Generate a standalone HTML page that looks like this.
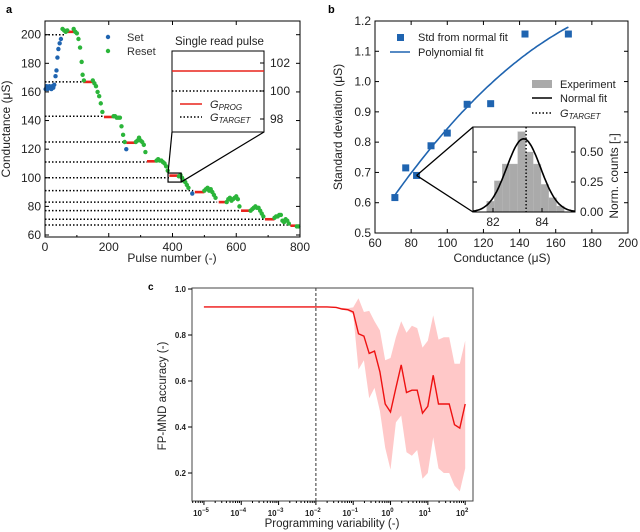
<!DOCTYPE html>
<html><head><meta charset="utf-8"><style>
body{margin:0;background:#fff;}
svg{display:block;font-family:"Liberation Sans",sans-serif;}
</style></head><body>
<svg id="fig" width="640" height="532" viewBox="0 0 640 532" xmlns="http://www.w3.org/2000/svg">
<g id="pa"></g>
<g id="pb"></g>
<g id="pc"></g>
</svg>
<script>
// ---------- Panel a data ----------
const aLevels = [200,167,143,125,111,100,91,83,77,71,67];
const aDotEnd = [60,125,185,255,320,390,465,540,615,690,770];
const aProgX0 = [60,120,185,255,320,390,470,545,615,690,770];
const aProgVal = [202,167,142.5,124.5,111.5,101.5,90,83,77,71,66.5];
const aSetX = [2,5,8,11,14,17,20,23,26,29,33,36,39,42,46,50,255,462];
const aSetY = [162,164,162,163,164,163,162,164,163,165,171,175,184,190,194,197,120,89];
const aResetX = [55,60,65,70,90,95,100,105,110,115,118,122,150,155,160,165,170,175,180,215,220,225,230,235,240,245,250,285,290,295,300,305,310,315,350,355,360,365,370,375,380,385,420,425,430,435,440,445,450,500,505,510,515,520,525,530,535,570,575,580,585,590,595,600,605,610,645,650,655,660,665,670,675,680,685,720,725,730,735,740,745,750,755,760,765,790,795];
const aResetY = [204,203,202,203,204,202,201,197,191,181,172,168,168,166,164,160,157,152,146,143,143,142,142,142,136,130,125,125,126,128,126,125,123,118,112,113,112,112,111,110,108,105,101,102,100,98,97,95,93,91,92,93,91,92,90,88,86,83,85,86,84,85,86,87,85,80,77,78,79,80,79,79,77,75,73,72,73,73,74,74,70,69,71,70,68,66,66];
const aXTicks = [0,200,400,600,800];
const aYTicks = [60,80,100,120,140,160,180,200];
const aInsetTicks = [98,100,102];
const aInsetProg = [101.43];
// ---------- Panel b data ----------
const bPtsX = [71,77,83,91,100,111,124,143,167];
const bPtsY = [0.617,0.715,0.69,0.788,0.83,0.925,0.927,1.157,1.157];
const bPolyCoef = [-0.1033,0.01216,-0.0000268];
const bXTicks = [60,80,100,120,140,160,180,200];
const bYTicks = [0.5,0.6,0.7,0.8,0.9,1.0,1.1,1.2];
const bHistStart = [81.74];
const bHistWidth = [0.317];
const bHistH = [0.09,0.26,0.40,0.40,0.67,0.50,0.40,0.23,0.12,0.05];
const bFit = [83.25,0.69,0.61]; // mean, sigma, peak
const bTarget = [83.35];
const bInsetXTicks = [82,84];
const bInsetYTicks = [0,0.25,0.5];
// ---------- Panel c data ----------
const cX = [1e-5,1e-4,1e-3,1e-2,0.02,0.035,0.05,0.072,0.1,0.139,0.193,0.268,0.373,0.518,0.72,1,1.39,1.93,2.68,3.73,5.18,7.2,10,13.9,19.3,26.8,37.3,51.8,72,100];
const cMean = [0.922,0.922,0.922,0.922,0.922,0.920,0.913,0.910,0.900,0.805,0.795,0.72,0.73,0.64,0.50,0.465,0.57,0.67,0.55,0.56,0.56,0.46,0.49,0.625,0.50,0.50,0.50,0.41,0.395,0.50];
const cUpper = [0.923,0.923,0.923,0.923,0.924,0.922,0.918,0.917,0.92,0.96,0.90,0.905,0.86,0.82,0.69,0.70,0.79,0.86,0.81,0.84,0.83,0.745,0.775,0.885,0.78,0.79,0.79,0.675,0.675,0.775];
const cLower = [0.921,0.921,0.921,0.921,0.920,0.918,0.91,0.905,0.89,0.65,0.69,0.525,0.57,0.47,0.31,0.215,0.42,0.45,0.29,0.275,0.30,0.175,0.20,0.355,0.22,0.20,0.20,0.145,0.12,0.22];
const cXTickExp = [-5,-4,-3,-2,-1,0,1,2];
const cYTicks = [0.2,0.4,0.6,0.8,1.0];
const cVline = [0.01];

const NS = "http://www.w3.org/2000/svg";
function mk(parent, tag, attrs, name, txt){
  const e = document.createElementNS(NS, tag);
  for (const k in attrs) e.setAttribute(k, attrs[k]);
  
  
  if (txt !== undefined) e.textContent = txt;
  parent.appendChild(e);
  return e;
}

// ===== Panel a =====
(function(){
  const g = document.getElementById('pa');
  const L=45,R=300,T=21,B=237;
  const xA = v => L + v/800*(R-L);
  const yA = v => 235 - (v-60)*1.4307;
  mk(g,'text',{x:6,y:13,'font-size':11,'font-weight':'bold'},'panel-label-a','a');
  aLevels.forEach((lv,i)=>{
    mk(g,'line',{x1:L,x2:xA(aDotEnd[i]),y1:yA(lv),y2:yA(lv),stroke:'#000','stroke-width':1.5,'stroke-dasharray':'1.5,2'},'target-line');
  });
  aProgX0.forEach((x0,i)=>{
    mk(g,'line',{x1:xA(x0),x2:xA(x0+30),y1:yA(aProgVal[i]),y2:yA(aProgVal[i]),stroke:'#e8231c','stroke-width':2.6},'prog-segment');
  });
  aResetX.forEach((x,i)=>{
    mk(g,'circle',{cx:xA(x),cy:yA(aResetY[i]),r:2.2,fill:'#2bb53a'},'reset-point');
  });
  aSetX.forEach((x,i)=>{
    mk(g,'circle',{cx:xA(x),cy:yA(aSetY[i]),r:2.2,fill:'#1f64b0'},'set-point');
  });
  mk(g,'rect',{x:L,y:T,width:R-L,height:B-T,fill:'none',stroke:'#000','stroke-width':1},'plot-frame');
  aXTicks.forEach(v=>{
    mk(g,'line',{x1:xA(v),x2:xA(v),y1:B,y2:B-4,stroke:'#000'},'x-tick');
    mk(g,'line',{x1:xA(v),x2:xA(v),y1:T,y2:T+4,stroke:'#000'},'x-tick-top');
    mk(g,'text',{x:xA(v),y:B+14,'font-size':12,'text-anchor':'middle',fill:'#222'},'x-tick-label',String(v));
  });
  for(let v=100;v<800;v+=200){
    mk(g,'line',{x1:xA(v),x2:xA(v),y1:B,y2:B-2,stroke:'#000'},'x-minor-tick');
  }
  aYTicks.forEach(v=>{
    mk(g,'line',{x1:L,x2:L+4,y1:yA(v),y2:yA(v),stroke:'#000'},'y-tick');
    mk(g,'line',{x1:R,x2:R-4,y1:yA(v),y2:yA(v),stroke:'#000'},'y-tick-right');
    mk(g,'text',{x:L-4,y:yA(v)+4,'font-size':12,'text-anchor':'end',fill:'#222'},'y-tick-label',String(v));
  });
  mk(g,'text',{x:172,y:262,'font-size':12,'text-anchor':'middle',fill:'#222'},'x-axis-title','Pulse number (-)');
  mk(g,'text',{x:0,y:0,'font-size':12,'text-anchor':'middle',fill:'#222',transform:'translate(10,129) rotate(-90)'},'y-axis-title','Conductance (\u03bcS)');
  mk(g,'circle',{cx:108,cy:37,r:2.2,fill:'#1f64b0'},'legend-set-marker');
  mk(g,'text',{x:127,y:41,'font-size':11,fill:'#333'},'legend-set-label','Set');
  mk(g,'circle',{cx:108,cy:51,r:2.2,fill:'#2bb53a'},'legend-reset-marker');
  mk(g,'text',{x:127,y:55,'font-size':11,fill:'#333'},'legend-reset-label','Reset');
  mk(g,'rect',{x:xA(386),y:yA(103.3),width:xA(427)-xA(386),height:yA(97)-yA(103.3),fill:'none',stroke:'#000','stroke-width':1.2},'zoom-rect');
  mk(g,'line',{x1:xA(386),y1:yA(103.3),x2:172,y2:132,stroke:'#000','stroke-width':1.2},'zoom-connector');
  mk(g,'line',{x1:xA(427),y1:yA(97),x2:264,y2:132,stroke:'#000','stroke-width':1.2},'zoom-connector');
  mk(g,'rect',{x:172,y:51,width:92,height:81,fill:'#fff',stroke:'#000','stroke-width':1},'inset-frame');
  const yI = v => 91-(v-100)*14;
  mk(g,'line',{x1:172,x2:264,y1:yI(aInsetProg[0]),y2:yI(aInsetProg[0]),stroke:'#e8231c','stroke-width':1.5},'inset-prog-line');
  mk(g,'line',{x1:172,x2:264,y1:yI(100),y2:yI(100),stroke:'#000','stroke-width':1.4,'stroke-dasharray':'1.5,2'},'inset-target-line');
  aInsetTicks.forEach(v=>{
    mk(g,'line',{x1:264,x2:260,y1:yI(v),y2:yI(v),stroke:'#000'},'inset-tick');
    mk(g,'text',{x:270,y:yI(v)+4,'font-size':12,fill:'#222'},'inset-tick-label',String(v));
  });
  mk(g,'text',{x:175,y:45,'font-size':11.5,fill:'#222'},'inset-title','Single read pulse');
  mk(g,'line',{x1:180,x2:202,y1:104,y2:104,stroke:'#e8231c','stroke-width':1.5},'legend-prog-line');
  const t1 = mk(g,'text',{x:210,y:108,'font-size':11,'font-style':'italic',fill:'#222'},'legend-prog-label','G');
  mk(t1,'tspan',{'font-size':8,dy:2},'subscript','PROG');
  mk(g,'line',{x1:180,x2:202,y1:117,y2:117,stroke:'#000','stroke-width':1.4,'stroke-dasharray':'1.5,2'},'legend-target-line');
  const t2 = mk(g,'text',{x:210,y:121,'font-size':11,'font-style':'italic',fill:'#222'},'legend-target-label','G');
  mk(t2,'tspan',{'font-size':8,dy:2},'subscript','TARGET');
})();

// ===== Panel b =====
(function(){
  const g = document.getElementById('pb');
  const L=375,R=628,T=21,B=233;
  const xB = v => L + (v-60)/140*(R-L);
  const yB = v => B - (v-0.5)/0.7*(B-T);
  mk(g,'text',{x:328,y:13,'font-size':11,'font-weight':'bold'},'panel-label-b','b');
  mk(g,'rect',{x:L,y:T,width:R-L,height:B-T,fill:'none',stroke:'#000'},'plot-frame');
  bXTicks.forEach(v=>{
    mk(g,'line',{x1:xB(v),x2:xB(v),y1:B,y2:B-4,stroke:'#000'},'x-tick');
    mk(g,'line',{x1:xB(v),x2:xB(v),y1:T,y2:T+4,stroke:'#000'},'x-tick-top');
    mk(g,'text',{x:xB(v),y:B+14,'font-size':12,'text-anchor':'middle',fill:'#222'},'x-tick-label',String(v));
  });
  bYTicks.forEach(v=>{
    mk(g,'line',{x1:L,x2:L+4,y1:yB(v),y2:yB(v),stroke:'#000'},'y-tick');
    mk(g,'line',{x1:R,x2:R-4,y1:yB(v),y2:yB(v),stroke:'#000'},'y-tick-right');
    mk(g,'text',{x:L-4,y:yB(v)+4,'font-size':12,'text-anchor':'end',fill:'#222'},'y-tick-label',v.toFixed(1));
  });
  let d='';
  for(let x=bPtsX[0]; x<=bPtsX[bPtsX.length-1]; x+=1){
    const y=bPolyCoef[0]+bPolyCoef[1]*x+bPolyCoef[2]*x*x;
    d += (d?'L':'M')+xB(x).toFixed(1)+','+yB(y).toFixed(1);
  }
  mk(g,'path',{d:d,fill:'none',stroke:'#1f64b0','stroke-width':1.6},'polynomial-fit-line');
  bPtsX.forEach((x,i)=>{
    mk(g,'rect',{x:xB(x)-3.5,y:yB(bPtsY[i])-3.5,width:7,height:7,fill:'#1f64b0'},'std-point');
  });
  mk(g,'text',{x:502,y:262,'font-size':12,'text-anchor':'middle',fill:'#222'},'x-axis-title','Conductance (\u03bcS)');
  mk(g,'text',{x:0,y:0,'font-size':12,'text-anchor':'middle',fill:'#222',transform:'translate(342,127) rotate(-90)'},'y-axis-title','Standard deviation (\u03bcS)');
  mk(g,'rect',{x:397,y:34,width:7,height:7,fill:'#1f64b0'},'legend-std-marker');
  mk(g,'text',{x:418,y:41,'font-size':11,fill:'#222'},'legend-std-label','Std from normal fit');
  mk(g,'line',{x1:390,x2:410,y1:52,y2:52,stroke:'#1f64b0','stroke-width':1.6},'legend-poly-line');
  mk(g,'text',{x:418,y:56,'font-size':11,fill:'#222'},'legend-poly-label','Polynomial fit');
  mk(g,'rect',{x:532,y:80,width:20,height:8,fill:'#aaa'},'legend-hist-swatch');
  mk(g,'text',{x:560,y:88,'font-size':11,fill:'#222'},'legend-hist-label','Experiment');
  mk(g,'line',{x1:532,x2:552,y1:98,y2:98,stroke:'#000','stroke-width':1.5},'legend-normal-line');
  mk(g,'text',{x:560,y:102,'font-size':11,fill:'#222'},'legend-normal-label','Normal fit');
  mk(g,'line',{x1:532,x2:552,y1:113,y2:113,stroke:'#000','stroke-width':1.4,'stroke-dasharray':'1.5,2'},'legend-target-line');
  const t = mk(g,'text',{x:560,y:117,'font-size':11,'font-style':'italic',fill:'#222'},'legend-target-label','G');
  mk(t,'tspan',{'font-size':8,dy:2},'subscript','TARGET');
  const px=xB(83), py=yB(0.69);
  mk(g,'line',{x1:px,y1:py,x2:473,y2:127,stroke:'#000','stroke-width':1.3},'zoom-connector');
  mk(g,'line',{x1:px,y1:py,x2:473,y2:212,stroke:'#000','stroke-width':1.3},'zoom-connector');
  const IL=473,IR=575,IT=127,IB=212;
  const xI = v => 493 + (v-82)*24.5;
  const yI = v => 212 - v*120;
  mk(g,'rect',{x:IL,y:IT,width:IR-IL,height:IB-IT,fill:'#fff'},'inset-bg');
  bHistH.forEach((h,i)=>{
    const x0=bHistStart[0]+i*bHistWidth[0];
    mk(g,'rect',{x:xI(x0),y:yI(h),width:xI(x0+bHistWidth[0])-xI(x0),height:IB-yI(h),fill:'#aaa',stroke:'#bbb','stroke-width':0.3},'hist-bar');
  });
  let d2='';
  for(let x=81.2;x<=85.35;x+=0.05){
    const y=bFit[2]*Math.exp(-0.5*Math.pow((x-bFit[0])/bFit[1],2));
    d2 += (d2?'L':'M')+xI(x).toFixed(1)+','+yI(y).toFixed(1);
  }
  mk(g,'path',{d:d2,fill:'none',stroke:'#000','stroke-width':1.6},'normal-fit-curve');
  mk(g,'line',{x1:xI(bTarget[0]),x2:xI(bTarget[0]),y1:IT,y2:IB,stroke:'#000','stroke-width':1.4,'stroke-dasharray':'1.5,2'},'inset-target-line');
  mk(g,'rect',{x:IL,y:IT,width:IR-IL,height:IB-IT,fill:'none',stroke:'#000'},'inset-frame');
  bInsetXTicks.forEach(v=>{
    mk(g,'line',{x1:xI(v),x2:xI(v),y1:IB,y2:IB-4,stroke:'#000'},'inset-x-tick');
    mk(g,'text',{x:xI(v),y:IB+14,'font-size':12,'text-anchor':'middle',fill:'#222'},'inset-x-tick-label',String(v));
  });
  bInsetYTicks.forEach(v=>{
    mk(g,'line',{x1:IR,x2:IR-4,y1:yI(v),y2:yI(v),stroke:'#000'},'inset-y-tick');
    mk(g,'line',{x1:IL,x2:IL+4,y1:yI(v),y2:yI(v),stroke:'#000'},'inset-y-tick-left');
    mk(g,'text',{x:IR+5,y:yI(v)+4,'font-size':12,fill:'#222'},'inset-y-tick-label',v.toFixed(2));
  });
  mk(g,'text',{x:0,y:0,'font-size':12,'text-anchor':'middle',fill:'#222',transform:'translate(618,176) rotate(-90)'},'inset-y-title','Norm. counts [-]');
})();

// ===== Panel c =====
(function(){
  const g = document.getElementById('pc');
  const L=192,R=473,T=288,B=501;
  const xC = v => L + (Math.log10(v)+5.32)/7.53*(R-L);
  const yC = v => 289 + (1.0-v)*230;
  mk(g,'text',{x:148,y:290,'font-size':10,'font-weight':'bold'},'panel-label-c','c');
  let up='',lo='';
  cX.forEach((x,i)=>{ up += (i?'L':'M')+xC(x).toFixed(1)+','+yC(cUpper[i]).toFixed(1); });
  for(let i=cX.length-1;i>=0;i--){ lo += 'L'+xC(cX[i]).toFixed(1)+','+yC(cLower[i]).toFixed(1); }
  mk(g,'path',{d:up+lo+'Z',fill:'#ffc8c8',stroke:'none'},'std-band');
  let m='';
  cX.forEach((x,i)=>{ m += (i?'L':'M')+xC(x).toFixed(1)+','+yC(cMean[i]).toFixed(1); });
  mk(g,'path',{d:m,fill:'none',stroke:'#ee1111','stroke-width':1.4},'mean-accuracy-line');
  mk(g,'line',{x1:xC(cVline[0]),x2:xC(cVline[0]),y1:T,y2:B,stroke:'#333','stroke-width':1,'stroke-dasharray':'3,2'},'threshold-line');
  mk(g,'rect',{x:L,y:T,width:R-L,height:B-T,fill:'none',stroke:'#444','stroke-width':1},'plot-frame');
  cXTickExp.forEach(e=>{
    const x=xC(Math.pow(10,e));
    mk(g,'line',{x1:x,x2:x,y1:B,y2:B+4,stroke:'#000'},'x-tick');
    const t=mk(g,'text',{x:x-3,y:B+15,'font-size':8,'font-weight':'bold','text-anchor':'middle',fill:'#222'},'x-tick-label','10');
    mk(t,'tspan',{'font-size':6,dy:-4},'superscript',e<0?'\u2212'+(-e):String(e));
    if(e<2){for(let k=2;k<10;k++){
      const xm=xC(k*Math.pow(10,e));
      mk(g,'line',{x1:xm,x2:xm,y1:B,y2:B+2,stroke:'#000'},'x-minor-tick');
    }}
  });
  for(let k=5;k<10;k++){ const xm=xC(k*1e-6); if(xm>L) mk(g,'line',{x1:xm,x2:xm,y1:B,y2:B+2,stroke:'#000'},'x-minor-tick'); }
  cYTicks.forEach(v=>{
    mk(g,'line',{x1:L,x2:L-4,y1:yC(v),y2:yC(v),stroke:'#000'},'y-tick');
    mk(g,'text',{x:L-6,y:yC(v)+3,'font-size':8,'font-weight':'bold','text-anchor':'end',fill:'#222'},'y-tick-label',v.toFixed(1));
  });
  mk(g,'text',{x:332,y:527,'font-size':11.5,'text-anchor':'middle',fill:'#222'},'x-axis-title','Programming variability (-)');
  mk(g,'text',{x:0,y:0,'font-size':11.5,'text-anchor':'middle',fill:'#222',transform:'translate(166,396) rotate(-90)'},'y-axis-title','FP-MND accuracy (-)');
})();
</script>
</body></html>
